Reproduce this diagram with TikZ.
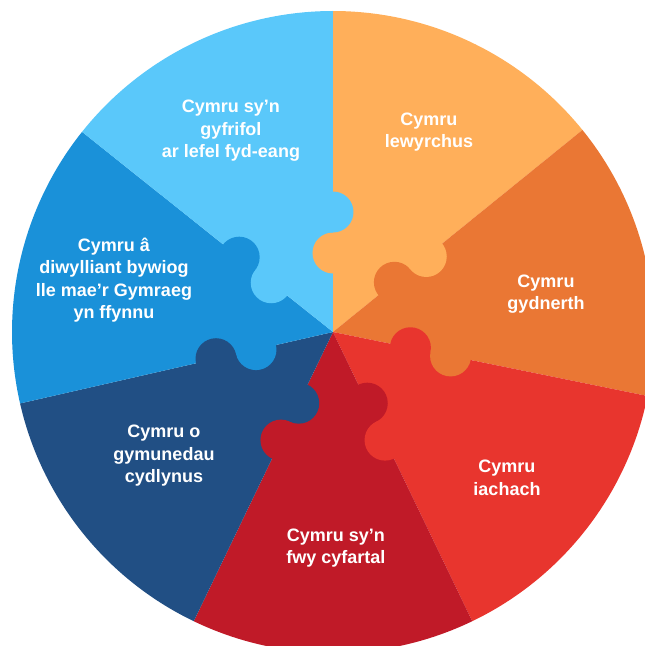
\documentclass[tikz,border=0pt]{standalone}
\usepackage{fontspec}
\setmainfont{Liberation Sans}
\usetikzlibrary{calc}
\definecolor{lblue}{HTML}{5AC8FA}
\definecolor{lorange}{HTML}{FFAF5A}
\definecolor{orange}{HTML}{EA7734}
\definecolor{red}{HTML}{E8352E}
\definecolor{dred}{HTML}{C01A28}
\definecolor{dblue}{HTML}{214F84}
\definecolor{mblue}{HTML}{1A91D9}
\begin{document}
\begin{tikzpicture}[x=1pt, y=1pt,
    aim/.style={text=white, align=center, font=\bfseries\fontsize{18}{22.5}\selectfont}]
  \useasboundingbox (-333,-314) rectangle (312,332);
  \clip (-333,-314) rectangle (312,332);
  % sectors
  \fill[lorange] (0,0) -- (39:321) arc[start angle=39, end angle=90, radius=321] -- cycle;
  \fill[orange] (0,0) -- (-11.5:321) arc[start angle=-11.5, end angle=39, radius=321] -- cycle;
  \fill[red] (0,0) -- (-64.29:321) arc[start angle=-64.29, end angle=-11.5, radius=321] -- cycle;
  \fill[dred] (0,0) -- (-115.71:321) arc[start angle=-115.71, end angle=-64.29, radius=321] -- cycle;
  \fill[dblue] (0,0) -- (-167.14:321) arc[start angle=-167.14, end angle=-115.71, radius=321] -- cycle;
  \fill[mblue] (0,0) -- (141.43:321) arc[start angle=141.43, end angle=192.86, radius=321] -- cycle;
  \fill[lblue] (0,0) -- (90:321) arc[start angle=90, end angle=141.43, radius=321] -- cycle;
  % knobs
  \fill[lorange] (90:79) circle[radius=20.5];
  \fill[lblue] (90:120) circle[radius=20.5];
  \fill[orange] (39:79) circle[radius=20.5];
  \fill[lorange] (39:120) circle[radius=20.5];
  \fill[red] (-11.5:79) circle[radius=20.5];
  \fill[orange] (-11.5:120) circle[radius=20.5];
  \fill[dred] (-64.29:79) circle[radius=20.5];
  \fill[red] (-64.29:120) circle[radius=20.5];
  \fill[dblue] (-115.71:79) circle[radius=20.5];
  \fill[dred] (-115.71:120) circle[radius=20.5];
  \fill[mblue] (-167.14:79) circle[radius=20.5];
  \fill[dblue] (-167.14:120) circle[radius=20.5];
  \fill[lblue] (141.43:79) circle[radius=20.5];
  \fill[mblue] (141.43:120) circle[radius=20.5];
  % labels
  \node[aim] (gyfrifol) at (-102,201) {Cymru sy’n\\gyfrifol\\ar lefel fyd-eang};
  \node[aim] (lewyrchus) at (96,200) {Cymru\\lewyrchus};
  \node[aim] (gydnerth) at (213,38) {Cymru\\gydnerth};
  \node[aim] (iachach) at (174,-146) {Cymru\\iachach};
  \node[aim] (cyfartal) at (3,-216) {Cymru sy’n\\fwy cyfartal};
  \node[aim] (cydlynus) at (-169,-124) {Cymru o\\gymunedau\\cydlynus};
  \node[aim] (diwylliant) at (-219,52) {Cymru â\\diwylliant bywiog\\lle mae’r Gymraeg\\yn ffynnu};
\end{tikzpicture}
\end{document}
